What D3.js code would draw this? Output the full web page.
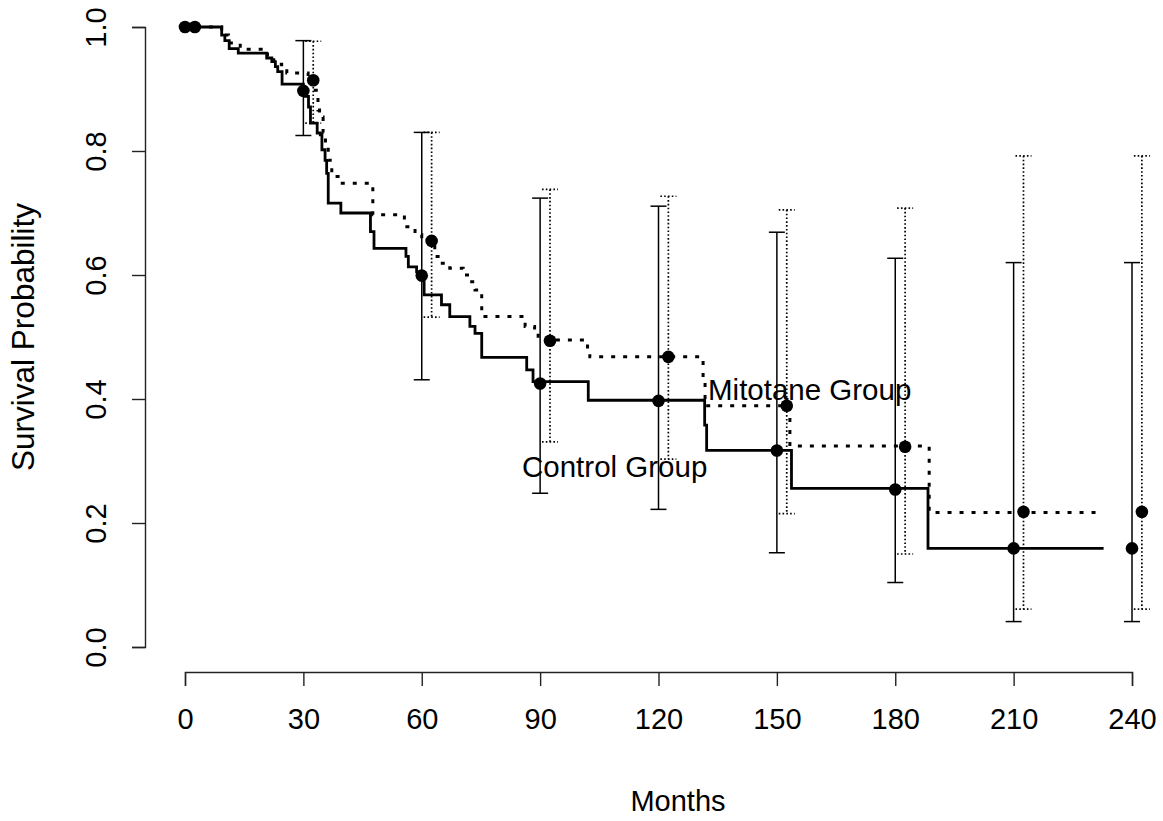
<!DOCTYPE html>
<html>
<head>
<meta charset="utf-8">
<script src="https://cdn.jsdelivr.net/npm/d3@7"></script>
<style>
  html, body { margin: 0; padding: 0; background: #fff; }
  svg text { font-family: "Liberation Sans", Arial, Helvetica, sans-serif; fill: #000; }
</style>
</head>
<body>
<svg id="chart" width="1163" height="821"></svg>
<script>
// ---- Data ----
// Kaplan–Meier step curves: time (months) at which survival changes, and new survival
const controlStepTimes = [0, 9.3, 10.1, 11.2, 13.5, 20.7, 22.0, 22.9, 23.5, 24.6, 30.0, 30.5, 31.3, 31.8, 33.5, 34.3, 34.7, 35.5, 35.9, 36.3, 39.5, 47.0, 47.9, 56.0, 56.6, 58.7, 59.5, 60.6, 65.0, 67.1, 72.2, 73.5, 75.2, 86.6, 88.2, 102.2, 131.7, 132.2, 153.7, 188.3];
const controlStepSurv  = [1.0, 0.987, 0.978, 0.965, 0.958, 0.950, 0.944, 0.936, 0.928, 0.908, 0.897, 0.888, 0.871, 0.845, 0.829, 0.826, 0.802, 0.785, 0.764, 0.716, 0.700, 0.670, 0.643, 0.630, 0.613, 0.605, 0.597, 0.568, 0.552, 0.533, 0.517, 0.506, 0.467, 0.447, 0.428, 0.398, 0.358, 0.317, 0.256, 0.159];
const controlEnd = 232.8;

const mitotaneStepTimes = [0, 9.3, 11.0, 14.0, 20.9, 22.5, 24.5, 25.8, 31.2, 33.0, 33.7, 34.1, 35.0, 35.6, 36.3, 37.2, 39.3, 47.6, 55.6, 58.3, 60.0, 63.3, 64.6, 67.1, 70.5, 72.2, 73.5, 75.2, 86.2, 88.6, 89.5, 102.0, 102.6, 131.3, 131.8, 153.3, 188.6];
const mitotaneStepSurv  = [1.0, 0.987, 0.974, 0.964, 0.950, 0.940, 0.932, 0.926, 0.914, 0.898, 0.866, 0.855, 0.830, 0.812, 0.785, 0.759, 0.748, 0.697, 0.678, 0.665, 0.655, 0.630, 0.619, 0.611, 0.600, 0.589, 0.576, 0.533, 0.517, 0.506, 0.495, 0.484, 0.468, 0.430, 0.389, 0.324, 0.217];
const mitotaneEnd = 232.0;

// Survival estimates with confidence intervals at selected times
const controlPtTimes = [0, 30, 60, 90, 120, 150, 180, 210, 240];
const controlPtSurv  = [1.0, 0.897, 0.599, 0.425, 0.397, 0.317, 0.254, 0.159, 0.159];
const controlLower   = [1.0, 0.825, 0.431, 0.248, 0.222, 0.152, 0.104, 0.041, 0.041];
const controlUpper   = [1.0, 0.978, 0.830, 0.724, 0.711, 0.669, 0.627, 0.620, 0.620];

const mitotanePtTimes = [2.5, 32.5, 62.5, 92.5, 122.5, 152.5, 182.5, 212.5, 242.5];
const mitotanePtSurv  = [1.0, 0.914, 0.655, 0.494, 0.468, 0.389, 0.323, 0.218, 0.218];
const mitotaneLower   = [1.0, 0.845, 0.532, 0.331, 0.303, 0.215, 0.150, 0.061, 0.061];
const mitotaneUpper   = [1.0, 0.977, 0.830, 0.738, 0.727, 0.705, 0.708, 0.792, 0.792];

const xTicks = [0, 30, 60, 90, 120, 150, 180, 210, 240];
const yTicks = [0.0, 0.2, 0.4, 0.6, 0.8, 1.0];

const groupLabels = ["Mitotane Group", "Control Group"];

// ---- Layout ----
const svg = d3.select("#chart");
const x = d3.scaleLinear().domain([0, 240]).range([185, 1132]);
const y = d3.scaleLinear().domain([0, 1]).range([647, 27]);
const FS = 29;

// Axes
const xAxisG = svg.append("g").attr("transform", "translate(0,672)")
  .call(d3.axisBottom(x).tickValues(xTicks).tickSize(14).tickFormat(d3.format("d")));
const yAxisG = svg.append("g").attr("transform", "translate(145,0)")
  .call(d3.axisLeft(y).tickValues(yTicks).tickSize(13).tickFormat(d3.format(".1f")));
[xAxisG, yAxisG].forEach(g => {
  g.select(".domain").attr("stroke", "#222").attr("stroke-width", 1.4);
  g.selectAll(".tick line").attr("stroke", "#222").attr("stroke-width", 1.4);
  g.selectAll(".tick text").attr("font-size", FS).attr("fill", "#000");
});
xAxisG.selectAll(".tick text").attr("dy", null).attr("y", 57);
yAxisG.selectAll(".tick text")
  .attr("x", null).attr("dy", null).attr("text-anchor", "middle")
  .attr("transform", "translate(-39,0) rotate(-90)").attr("y", 0);

// Axis titles
svg.append("text").attr("x", 678).attr("y", 811).attr("text-anchor", "middle")
  .attr("font-size", FS).text("Months");
svg.append("text").attr("transform", `translate(34,${y(0.5)}) rotate(-90)`)
  .attr("text-anchor", "middle").attr("font-size", 31.5).text("Survival Probability");

// Error bars
function errorBars(times, lo, hi, dashed) {
  const g = svg.append("g").attr("stroke", "#000").attr("stroke-width", dashed ? 1.7 : 1.5)
    .attr("stroke-dasharray", dashed ? "1.6,2.2" : null);
  times.forEach((t, i) => {
    if (hi[i] === lo[i]) return;
    g.append("line").attr("x1", x(t)).attr("x2", x(t)).attr("y1", y(hi[i])).attr("y2", y(lo[i]));
    [hi[i], lo[i]].forEach(v => {
      g.append("line").attr("x1", x(t) - 8).attr("x2", x(t) + 8).attr("y1", y(v)).attr("y2", y(v));
    });
  });
}
errorBars(controlPtTimes, controlLower, controlUpper, false);
errorBars(mitotanePtTimes, mitotaneLower, mitotaneUpper, true);

// KM curves
const line = d3.line().x(d => x(d[0])).y(d => y(d[1])).curve(d3.curveStepAfter);
function kmData(times, surv, end) {
  const d = times.map((t, i) => [t, surv[i]]);
  d.push([end, surv[surv.length - 1]]);
  return d;
}
svg.append("path").datum(kmData(controlStepTimes, controlStepSurv, controlEnd))
  .attr("d", line).attr("fill", "none").attr("stroke", "#000").attr("stroke-width", 2.8);
svg.append("path").datum(kmData(mitotaneStepTimes, mitotaneStepSurv, mitotaneEnd))
  .attr("d", line).attr("fill", "none").attr("stroke", "#000").attr("stroke-width", 3)
  .attr("stroke-dasharray", "4,8");

// Points
function points(times, surv) {
  svg.append("g").selectAll("circle").data(times).join("circle")
    .attr("cx", t => x(t)).attr("cy", (t, i) => y(surv[i])).attr("r", 6.3).attr("fill", "#000");
}
points(controlPtTimes, controlPtSurv);
points(mitotanePtTimes, mitotanePtSurv);

// Group labels
svg.append("text").attr("x", 708).attr("y", 400).attr("font-size", FS + 0.5).text(groupLabels[0]);
svg.append("text").attr("x", 522).attr("y", 477).attr("font-size", FS + 0.5).text(groupLabels[1]);
</script>
</body>
</html>
